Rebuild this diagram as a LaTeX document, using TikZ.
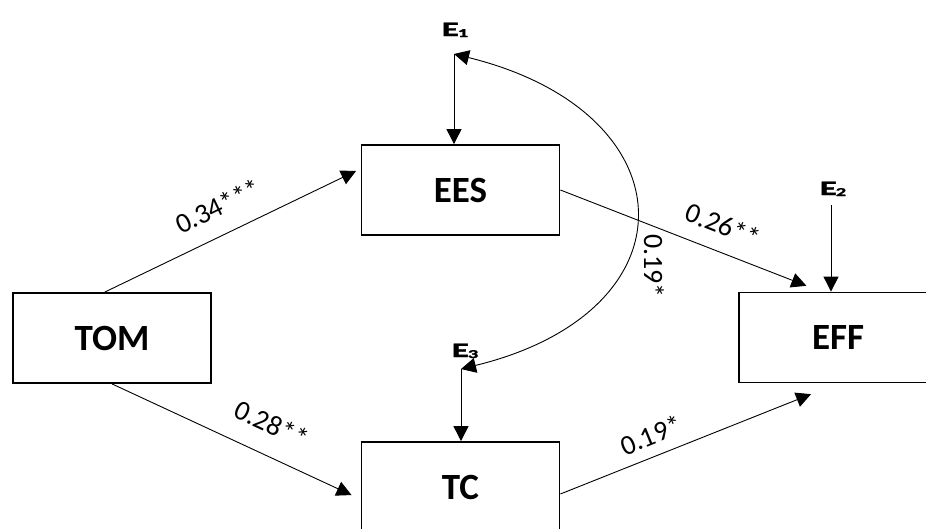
\documentclass[tikz,border=0pt]{standalone}
\usepackage{fontspec}
\setmainfont{Carlito}
\newfontfamily\errfont{Carlito Bold}[FakeBold=1.6]
\usetikzlibrary{arrows.meta,calc}

\tikzset{
  >={Triangle[length=15pt,width=15pt]},
  box/.style={draw, line width=1.8pt, minimum width=198pt, minimum height=90pt,
    inner sep=0pt, font=\fontsize{37}{37}\selectfont\bfseries},
  errlbl/.style={inner sep=0pt, anchor=base, font=\errfont\bfseries\fontsize{20.5}{20.5}\selectfont},
  coef/.style={inner sep=0pt, font=\fontsize{28}{28}\selectfont},
  conn/.style={line width=0.9pt, ->}
}
% wide error-term label: E with a lowered index
\newcommand\errsub[1]{\scalebox{1.7}[1]{E\kern-0.6pt\raisebox{-1pt}{\fontsize{12}{12}\selectfont #1}}}

\begin{document}
\begin{tikzpicture}[x=1pt,y=-1pt]
\useasboundingbox (0,0) rectangle (926,528);
\clip (0,0) rectangle (926,528);

% variables
\node[box] (TOM) at (112,338) {TOM};
\node[box] (EES) at (460.5,190) {EES};
\node[box] (TC)  at (460.5,487) {TC};
\node[box] (EFF) at (838,337.5) {EFF};

% error terms
\node[errlbl] (E1) at (455,36) {\errsub{1}};
\node[errlbl] (E2) at (833,195) {\errsub{2}};
\node[errlbl] (E3) at (465,357) {\errsub{3}};
\coordinate (e1foot) at (454,54);
\coordinate (e2foot) at (831,205);
\coordinate (e3foot) at (461,369);

\draw[conn] (e1foot) -- (e1foot |- EES.north);
\draw[conn] (e2foot) -- (e2foot |- EFF.north);
\draw[conn] (e3foot) -- (e3foot |- TC.north);

% covariance between E1 and E3
\draw[line width=0.9pt, <->] (e1foot) .. controls (690,112) and (698,311) .. (e3foot);

% paths
\draw[conn, shorten >=5pt] (TOM.99) -- (EES.168);
\draw[conn, shorten >=10pt] (TOM.south) -- (TC.187);
\draw[conn, shorten >=16pt] (EES.east) -- (EFF.110);
\draw[conn, shorten >=29pt] (TC.356) -- (EFF.south);

% coefficients
\node[coef, rotate=25.6]  (c1) at (218,206) {0.34***};
\node[coef, rotate=-24.9] (c2) at (272,424) {0.28**};
\node[coef, rotate=-21.8] (c3) at (723,225) {0.26**};
\node[coef, rotate=22.3]  (c4) at (651,435) {0.19*};
\node[coef, rotate=-90]   (c5) at (654,266) {0.19*};
\end{tikzpicture}
\end{document}
